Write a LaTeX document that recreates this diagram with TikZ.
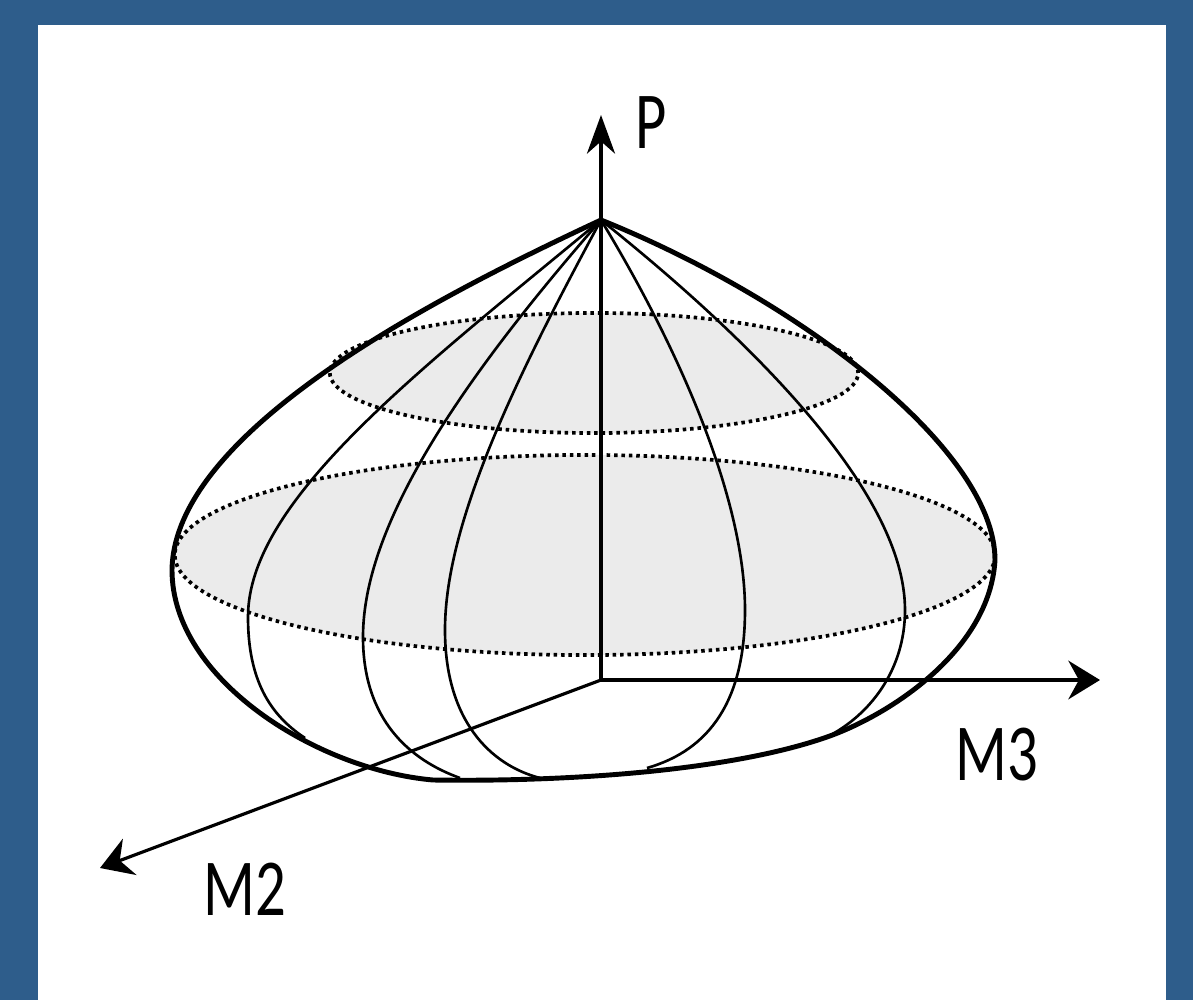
\documentclass[tikz,border=0pt]{standalone}
\usepackage{fontspec}
\setmainfont{Carlito}
\usetikzlibrary{arrows.meta}
\definecolor{frameblue}{HTML}{2E5D8B}
\definecolor{slicegray}{HTML}{EBEBEB}
\begin{document}
\begin{tikzpicture}[x=0.01cm,y=-0.01cm,
  outline/.style={line width=1.4pt, line join=round},
  meridian/.style={line width=0.75pt},
  axisline/.style={line width=0.9pt},
  slice/.style={fill=slicegray},
  sliceedge/.style={line width=1.05pt, dash pattern=on 1.0pt off 1.1pt},
  lbl/.style={font=\fontsize{23}{28}\selectfont, inner sep=0pt, anchor=base},
  ptip/.style={-{Stealth[length=11pt,width=8pt,inset=3.5pt]}},
  mtip/.style={-{Stealth[length=9pt,width=11pt,inset=3pt]}}
  ]
% frame
\fill[frameblue] (0,0) rectangle (1193,1000);
\fill[white] (38,25) rectangle (1166,1000);
\useasboundingbox (0,0) rectangle (1193,1000);

% key points
\coordinate (O) at (601,680);
\coordinate (apex) at (601,220);
\coordinate (Ptip) at (601,115);
\coordinate (M3tip) at (1100,680);
\coordinate (M2tip) at (100,868);

% shaded slices
\fill[slice] (594,373) ellipse [x radius=2.64cm, y radius=0.6cm];
\fill[slice] (585,555) ellipse [x radius=4.10cm, y radius=1.0cm];

% meridians
\draw[meridian] (apex) .. controls (420,370) and (248,500) .. (248,617)
  .. controls (248,680) and (270,715) .. (305,738);
\draw[meridian] (apex) .. controls (470,370) and (363,520) .. (363,637)
  .. controls (363,720) and (410,760) .. (460,778);
\draw[meridian] (apex) .. controls (520,370) and (445,520) .. (445,630)
  .. controls (445,720) and (490,765) .. (540,778);
\draw[meridian] (apex) .. controls (680,350) and (745,500) .. (745,610)
  .. controls (745,700) and (710,750) .. (647,768);
\draw[meridian] (apex) .. controls (745,335) and (905,490) .. (905,610)
  .. controls (905,670) and (870,715) .. (827,737);

% outline
\draw[outline] (apex) .. controls (440,295) and (174,430) .. (172,570)
  .. controls (172,680) and (318,770) .. (433,780)
  .. controls (560,782) and (727,772) .. (827,737)
  .. controls (890,715) and (990,650) .. (995,560)
  .. controls (995,450) and (800,300) .. (apex) -- cycle;

% slice edges
\draw[sliceedge] (594,373) ellipse [x radius=2.64cm, y radius=0.6cm];
\draw[sliceedge] (585,555) ellipse [x radius=4.10cm, y radius=1.0cm];

% axes
\draw[axisline, ptip] (O) -- (Ptip);
\draw[axisline, mtip] (O) -- (M3tip);
\draw[axisline, mtip] (O) -- (M2tip);

% labels
\node[lbl] (Plbl) at (651,148) {\scalebox{0.75}[1]{P}};
\node[lbl] (M3lbl) at (997,780) {\scalebox{0.75}[1]{M3}};
\node[lbl] (M2lbl) at (245,915) {\scalebox{0.75}[1]{M2}};
\end{tikzpicture}
\end{document}
